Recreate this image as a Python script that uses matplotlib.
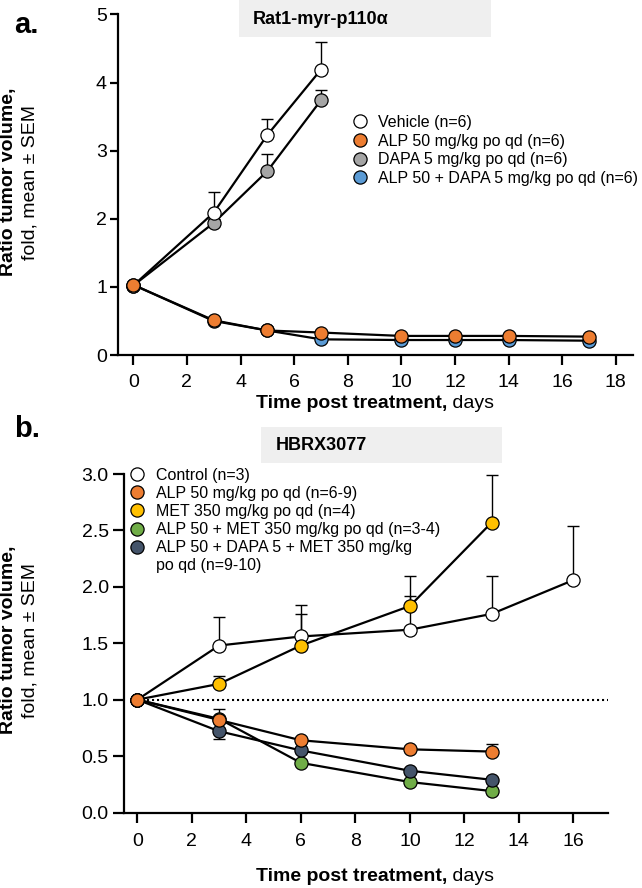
import matplotlib
matplotlib.use("Agg")
import matplotlib.pyplot as plt
from matplotlib.lines import Line2D
from matplotlib.patches import Rectangle
import numpy as np

plt.rcParams["font.family"] = ["Liberation Sans", "DejaVu Sans"]

W, H = 642, 888

# ---- panel a: Rat1-myr-p110a ----
a_days_short = [0, 3, 5, 7]
a_days_long = [0, 3, 5, 7, 10, 12, 14, 17]
a_vehicle = [1.02, 2.09, 3.23, 4.19]
a_vehicle_err = [0.0, 0.31, 0.24, 0.40]
a_dapa = [1.02, 1.94, 2.70, 3.74]
a_dapa_err = [0.0, 0.05, 0.25, 0.15]
a_alp = [1.03, 0.51, 0.36, 0.33, 0.28, 0.28, 0.28, 0.27]
a_combo = [1.03, 0.50, 0.36, 0.23, 0.22, 0.22, 0.22, 0.21]
a_labels = ["Vehicle (n=6)", "ALP 50 mg/kg po qd (n=6)",
            "DAPA 5 mg/kg po qd (n=6)", "ALP 50 + DAPA 5 mg/kg po qd (n=6)"]

# ---- panel b: HBRX3077 ----
b_days_ctrl = [0, 3, 6, 10, 13, 16]
b_days = [0, 3, 6, 10, 13]
b_ctrl = [1.0, 1.48, 1.56, 1.62, 1.76, 2.06]
b_ctrl_err = [0.0, 0.25, 0.28, 0.30, 0.34, 0.48]
b_met = [1.0, 1.14, 1.48, 1.83, 2.57]
b_met_err = [0.0, 0.07, 0.28, 0.27, 0.42]
b_alp = [1.0, 0.82, 0.64, 0.56, 0.54]
b_alp_err = [0.0, 0.10, 0.02, 0.02, 0.07]
b_alpmet = [1.0, 0.83, 0.44, 0.27, 0.19]
b_triple = [1.0, 0.72, 0.55, 0.37, 0.29]
b_triple_err = [0.0, 0.07, 0.0, 0.0, 0.0]
b_labels = ["Control (n=3)", "ALP 50 mg/kg po qd (n=6-9)", "MET 350 mg/kg po qd (n=4)",
            "ALP 50 + MET 350 mg/kg po qd (n=3-4)",
            "ALP 50 + DAPA 5 + MET 350 mg/kg", "po qd (n=9-10)"]

C_WHITE, C_ORANGE, C_GRAY, C_BLUE = "white", "#ED7D31", "#A5A5A5", "#5B9BD5"
C_YELLOW, C_GREEN, C_NAVY = "#FFC000", "#70AD47", "#44546A"
MS = 9.5


def fx(px):
    return px / W


def fy(py):
    return 1 - py / H


def series(ax, x, y, color, z, err=None, err_lo=None):
    x, y = np.asarray(x, float), np.asarray(y, float)
    ax.plot(x, y, color="k", lw=1.6, zorder=2)
    if err is not None:
        up = np.asarray(err, float)
        lo = np.asarray(err_lo, float) if err_lo is not None else np.zeros_like(up)
        m = up > 0
        ax.vlines(x[m], (y - lo)[m], (y + up)[m], color="k", lw=1.0, zorder=2.5)
        ax.plot(x[m], (y + up)[m], ls="none", marker="_", ms=8, mew=1.0, color="k", zorder=2.5)
        ml = lo > 0
        ax.plot(x[ml], (y - lo)[ml], ls="none", marker="_", ms=8, mew=1.0, color="k", zorder=2.5)
    ax.plot(x, y, "o", ls="none", ms=MS, mfc=color, mec="k", mew=0.9, zorder=z)


def style(ax, ylen, ypad, xpad):
    for s in ["top", "right"]:
        ax.spines[s].set_visible(False)
    for s in ["left", "bottom"]:
        ax.spines[s].set_linewidth(1.6)
    ax.tick_params(axis="both", width=1.6, labelsize=14)
    ax.tick_params(axis="y", length=ylen, pad=ypad)
    ax.tick_params(axis="x", length=7, pad=xpad)


def handle(color):
    return Line2D([], [], ls="none", marker="o", ms=MS, mfc=color, mec="k", mew=0.9)


fig = plt.figure(figsize=(W / 100, H / 100), dpi=100)

# ===== panel a =====
axa = fig.add_axes([fx(118), fy(355), (632.7 - 118) / W, (355 - 14.5) / H])
series(axa, a_days_long, a_combo, C_BLUE, 3)
series(axa, a_days_short, a_dapa, C_GRAY, 4, a_dapa_err)
series(axa, a_days_short, a_vehicle, C_WHITE, 5, a_vehicle_err)
series(axa, a_days_long, a_alp, C_ORANGE, 6)
axa.set_xlim(-0.57, 18.63)
axa.set_ylim(0, 5)
axa.set_xticks(range(0, 19, 2))
axa.set_yticks(range(0, 6))
style(axa, 6, 2, 6.5)
axa.legend([handle(c) for c in [C_WHITE, C_ORANGE, C_GRAY, C_BLUE]], a_labels,
           loc="upper left", bbox_to_anchor=(fx(352), fy(115)), bbox_transform=fig.transFigure,
           frameon=False, borderpad=0, borderaxespad=0, handlelength=1.0, handletextpad=0.62,
           labelspacing=0.23, fontsize=11.5)

# ===== panel b =====
axb = fig.add_axes([fx(124), fy(812.5), (608.3 - 124) / W, (812.5 - 474) / H])
axb.axhline(1.0, xmin=(0 + 0.49) / 17.77, xmax=1, color="k", lw=1.5, ls=(0, (1, 1.4)), zorder=1)
series(axb, b_days_ctrl, b_ctrl, C_WHITE, 3, b_ctrl_err)
series(axb, b_days, b_met, C_YELLOW, 4, b_met_err)
series(axb, b_days, b_alpmet, C_GREEN, 5)
series(axb, b_days, b_triple, C_NAVY, 6, b_triple_err, b_triple_err)
series(axb, b_days, b_alp, C_ORANGE, 7, b_alp_err)
axb.set_xlim(-0.49, 17.28)
axb.set_ylim(0, 3)
axb.set_xticks(range(0, 17, 2))
axb.set_yticks(np.arange(0, 3.01, 0.5))
axb.yaxis.set_major_formatter(matplotlib.ticker.FormatStrFormatter("%.1f"))
style(axb, 8, 3, 8)
hb = [handle(c) for c in [C_WHITE, C_ORANGE, C_YELLOW, C_GREEN, C_NAVY]]
hb.append(Line2D([], [], ls="none"))
axb.legend(hb, b_labels, loc="upper left", bbox_to_anchor=(fx(129.3), fy(468)),
           bbox_transform=fig.transFigure, frameon=False, borderpad=0, borderaxespad=0,
           handlelength=1.0, handletextpad=0.67, labelspacing=0.19, fontsize=11.5)

# title boxes
for (x0, x1, y0, y1, tx, ty, txt) in [(238.5, 491, 0, 36.7, 253, 19, "Rat1-myr-p110α"),
                                       (261, 502, 426.7, 463.3, 275.4, 445, "HBRX3077")]:
    fig.patches.append(Rectangle((fx(x0), fy(y1)), (x1 - x0) / W, (y1 - y0) / H,
                                 transform=fig.transFigure, facecolor="#EFEFEF",
                                 edgecolor="none", zorder=0))
    fig.text(fx(tx), fy(ty), txt, fontsize=13, fontweight="bold", ha="left", va="center")

# panel letters
fig.text(fx(14), fy(33), "a.", fontsize=21, fontweight="bold", ha="left", va="baseline")
fig.text(fx(14), fy(437), "b.", fontsize=21, fontweight="bold", ha="left", va="baseline")

# y labels
for yc in [182, 640]:
    fig.text(fx(9), fy(yc), "Ratio tumor volume,", fontsize=14, fontweight="bold",
             rotation=90, ha="center", va="center")
    fig.text(fx(30), fy(yc), "fold, mean ± SEM", fontsize=14,
             rotation=90, ha="center", va="center")

# x labels
for yc in [403, 876.7]:
    fig.text(fx(447), fy(yc), "Time post treatment,", fontsize=14, fontweight="bold",
             ha="right", va="center")
    fig.text(fx(447), fy(yc), " days", fontsize=14, ha="left", va="center")

fig.savefig("out.png", dpi=100)
